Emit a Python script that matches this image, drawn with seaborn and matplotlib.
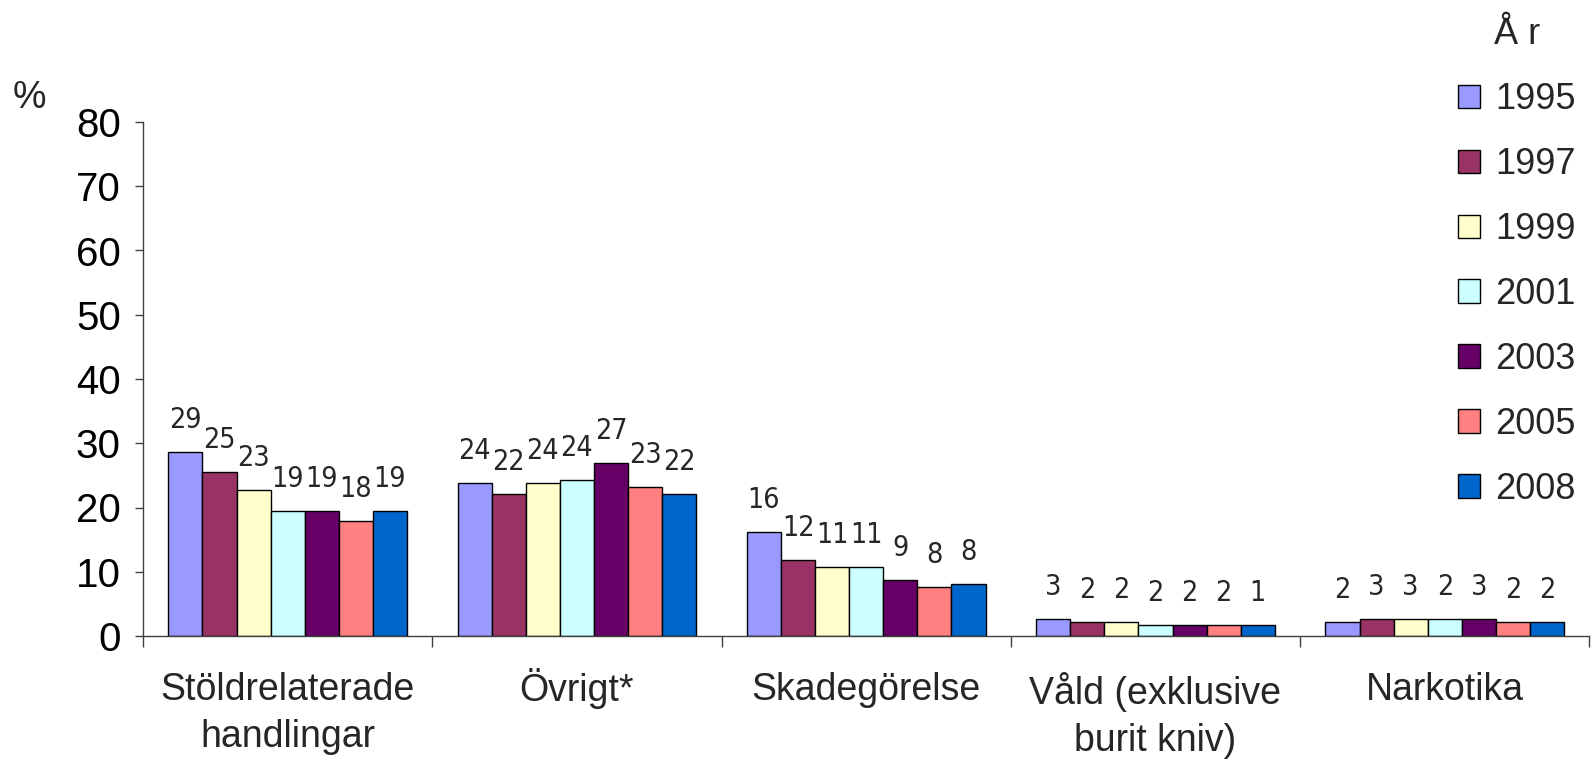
import numpy as np
import pandas as pd
import matplotlib
matplotlib.use("Agg")
import matplotlib.pyplot as plt
import matplotlib.transforms as mtransforms
import seaborn as sns
from matplotlib.ticker import FixedLocator
from matplotlib import font_manager

categories = ["Stöldrelaterade\nhandlingar", "Övrigt*", "Skadegörelse",
              "Våld (exklusive\nburit kniv)", "Narkotika"]
years = ["1995", "1997", "1999", "2001", "2003", "2005", "2008"]

v1995 = [28.7, 23.8, 16.2, 2.7, 2.2]
v1997 = [25.5, 22.1, 11.9, 2.2, 2.7]
v1999 = [22.8, 23.8, 10.8, 2.2, 2.7]
v2001 = [19.5, 24.3, 10.8, 1.7, 2.7]
v2003 = [19.5, 27.0, 8.7, 1.7, 2.7]
v2005 = [17.9, 23.2, 7.6, 1.7, 2.2]
v2008 = [19.5, 22.1, 8.1, 1.7, 2.2]

l1995 = [29, 24, 16, 3, 2]
l1997 = [25, 22, 12, 2, 3]
l1999 = [23, 24, 11, 2, 3]
l2001 = [19, 24, 11, 2, 2]
l2003 = [19, 27, 9, 2, 3]
l2005 = [18, 23, 8, 2, 2]
l2008 = [19, 22, 8, 1, 2]

colors = ["#9999FF", "#993366", "#FFFFCC", "#CCFFFF", "#660066", "#FF8080", "#0066CC"]

values = [v1995, v1997, v1999, v2001, v2003, v2005, v2008]
labels = [l1995, l1997, l1999, l2001, l2003, l2005, l2008]

rows = []
for y, vals in zip(years, values):
    for c, v in zip(categories, vals):
        rows.append({"cat": c, "year": y, "val": v})
df = pd.DataFrame(rows)

sns.set_style("white")
plt.rcParams["font.family"] = ["Liberation Sans", "DejaVu Sans"]

# pick a condensed font for the value labels if one is installed
avail = {(f.name, f.stretch) for f in font_manager.fontManager.ttflist}
names = {a[0] for a in avail}
if "Liberation Sans Narrow" in names:
    lab_font = dict(family=["Liberation Sans Narrow"], fontstretch="normal")
elif any(n == "DejaVu Sans" and s == "condensed" for n, s in avail):
    lab_font = dict(family=["DejaVu Sans"], fontstretch="condensed")
else:
    lab_font = dict(family=["Liberation Sans"], fontstretch="normal")

fig = plt.figure(figsize=(15.91, 7.61), dpi=100)
ax = fig.add_axes([143/1591, 1-636/761, 1-143/1591-0.001, (636-122)/761])

sns.barplot(data=df, x="cat", y="val", hue="year", order=categories,
            hue_order=years, palette=colors, width=0.825, gap=0,
            edgecolor="black", linewidth=1.0, saturation=1, ax=ax,
            errorbar=None)

for cont, labs in zip(ax.containers, labels):
    for p, lab in zip(cont.patches, labs):
        ax.annotate(str(lab), (p.get_x() + p.get_width()/2, p.get_height()),
                    xytext=(0, 23), textcoords="offset points",
                    ha="center", va="center", fontsize=20.5, **lab_font)

ax.set_xlim(-0.5, 4.5)
ax.set_ylim(0, 80)
ax.set_yticks(np.arange(0, 81, 10))
ax.tick_params(axis="y", labelsize=29, length=6, width=1, direction="out",
               left=True, pad=10, colors="#404040", labelcolor="black")
ax.tick_params(axis="x", which="major", length=0, labelsize=27, pad=26)
ax.xaxis.set_minor_locator(FixedLocator(np.arange(-0.5, 4.6, 1.0)))
ax.tick_params(axis="x", which="minor", length=8, width=1, direction="out",
               bottom=True, color="#404040")
ax.set_xlabel("")
ax.set_ylabel("")
for s in ["top", "right"]:
    ax.spines[s].set_visible(False)
for s in ["left", "bottom"]:
    ax.spines[s].set_color("#404040")
    ax.spines[s].set_linewidth(1)
for t in ax.get_xticklabels():
    t.set_linespacing(1.38)
    if t.get_text().startswith("Övrigt"):
        t.set_transform(t.get_transform() +
                        mtransforms.ScaledTranslation(0, 4/100, fig.dpi_scale_trans))

fig.text(29/1591, 1-98/761, "%", fontsize=27, ha="center", va="center")

handles, labs = ax.get_legend_handles_labels()
if ax.legend_:
    ax.legend_.remove()
leg = fig.legend(handles, labs, title="Å r", loc="upper left",
                 bbox_to_anchor=(1458/1591, 1-17/761), frameon=False,
                 fontsize=26, title_fontsize=26, handlelength=0.62,
                 handleheight=0.62, handletextpad=0.4, labelspacing=0.83,
                 borderaxespad=0, borderpad=0)
leg._legend_box.align = "center"

fig.savefig("out.png", dpi=100)
